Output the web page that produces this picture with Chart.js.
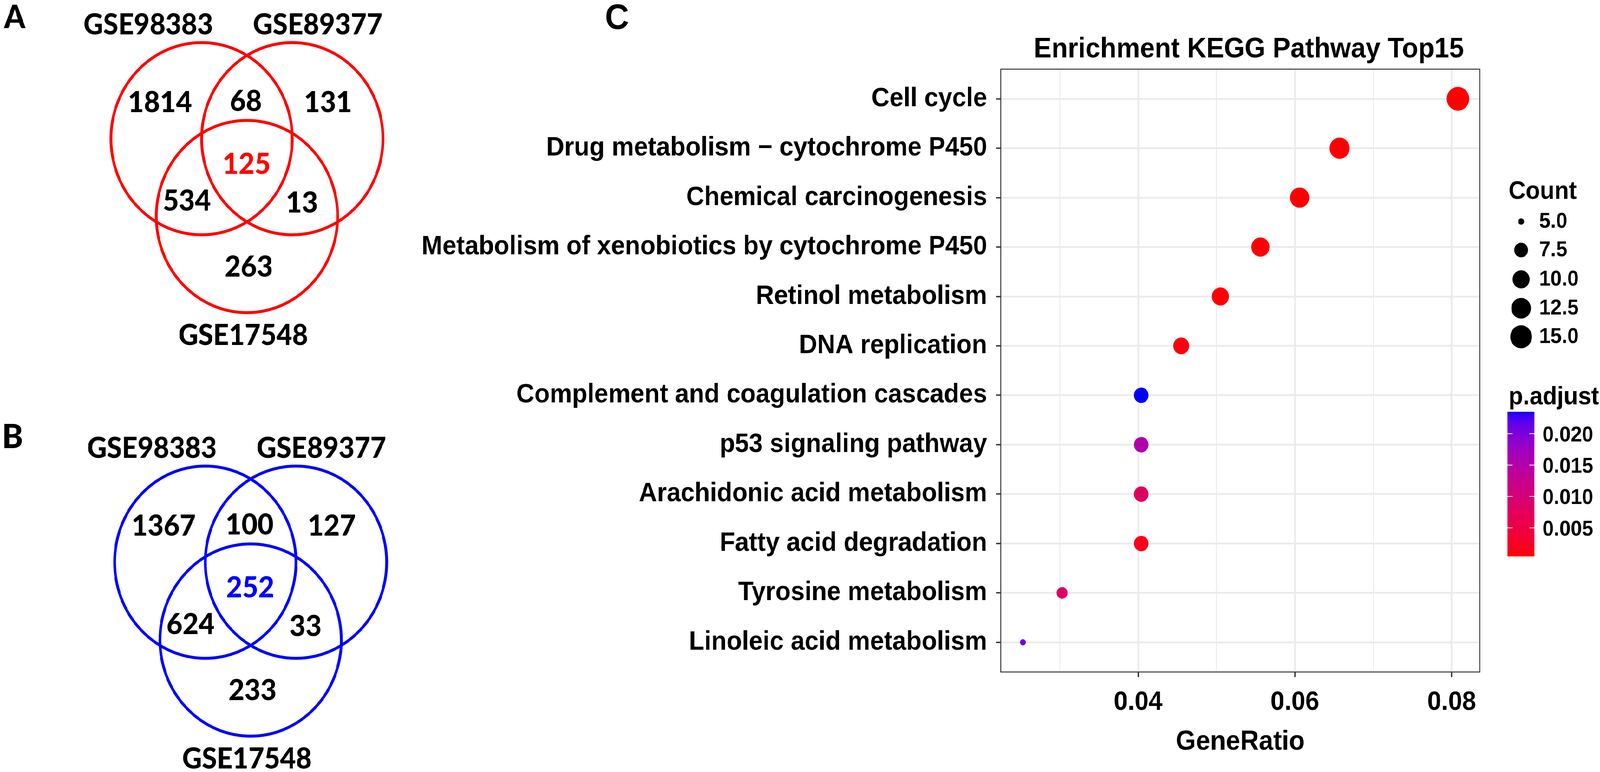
<!DOCTYPE html>
<html>
<head>
<meta charset="utf-8">
<script src="https://cdn.jsdelivr.net/npm/chart.js@4/dist/chart.umd.min.js"></script>
<style>
html,body{margin:0;padding:0;background:#fff;overflow:hidden;}
#stage{position:absolute;left:0;top:0;width:4341px;height:1976px;transform-origin:0 0;background:#fff;}
canvas{position:absolute;display:block;}
</style>
</head>
<body>
<div id="stage">
<canvas id="vennA" width="1100" height="976" style="left:0;top:0;width:1100px;height:976px"></canvas>
<canvas id="vennB" width="1100" height="1000" style="left:0;top:976px;width:1100px;height:1000px"></canvas>
<canvas id="dot" width="3241" height="1976" style="left:1100px;top:0;width:3241px;height:1976px"></canvas>
</div>
<script>
// ---------------- DATA ----------------
const vennSets = ['GSE98383', 'GSE89377', 'GSE17548'];
// region order: only1, 1&2, only2, 1&3, all three, 2&3, only3
const vennCountsA = [1814, 68, 131, 534, 125, 13, 263];
const vennCountsB = [1367, 100, 127, 624, 252, 33, 233];

const pathways = [
  'Cell cycle',
  'Drug metabolism \u2212 cytochrome P450',
  'Chemical carcinogenesis',
  'Metabolism of xenobiotics by cytochrome P450',
  'Retinol metabolism',
  'DNA replication',
  'Complement and coagulation cascades',
  'p53 signaling pathway',
  'Arachidonic acid metabolism',
  'Fatty acid degradation',
  'Tyrosine metabolism',
  'Linoleic acid metabolism'
];
const geneRatio = [0.0808, 0.0657, 0.0606, 0.0556, 0.0505, 0.0455, 0.0404, 0.0404, 0.0404, 0.0404, 0.0303, 0.0253];
const geneCount = [16, 13, 12, 11, 10, 9, 8, 8, 8, 8, 6, 5];
const pAdjust = [0.00046, 0.00049, 0.00053, 0.00061, 0.00075, 0.00095, 0.02349, 0.01543, 0.00783, 0.00161, 0.00806, 0.02073];

const xMajorTicks = [0.04, 0.06, 0.08];
const xMinorTicks = [0.03, 0.05, 0.07];
const countLegend = [5.0, 7.5, 10.0, 12.5, 15.0];
const pLegendTicks = [0.005, 0.010, 0.015, 0.020];

// ---------------- fit the 4341x1976 stage into the actual window ----------------
(function fit() {
  const sx = window.innerWidth / 4341, sy = window.innerHeight / 1976;
  if (sx > 0 && sy > 0 && (Math.abs(sx - 1) > 0.001 || Math.abs(sy - 1) > 0.001)) {
    document.getElementById('stage').style.transform = 'scale(' + sx + ',' + sy + ')';
  }
})();

// ---------------- LAYOUT / STYLE ----------------
const FONT_VENN = 'Lato';
const VENN_WEIGHT = '900';
const FONT_C = '"Liberation Sans", Arial, sans-serif';
const vennCircles = [[0, 0], [1, 0], [0.5, 0.81]];
const vennSetPos = [[-0.589, -1.195], [1.280, -1.195], [0.459, 2.037]];
const vennRegionPos = [[-0.459, -0.386], [0.488, -0.398], [1.394, -0.386], [-0.163, 0.638], [0.496, 0.256], [1.106, 0.659], [0.520, 1.325]];
const VENN_CENTER_REGION = 4;
const SET_FONT = 74, NUM_FONT = 75;

function capBase(size, cy) { return cy + 0.7165 * size / 2; }

function vennChart(id, counts, color, letter, frame) {
  const unitPx = chart => chart.scales.x.getPixelForValue(1) - chart.scales.x.getPixelForValue(0);
  const textPlugin = {
    id: 'vennText' + id,
    afterDraw(chart) {
      const ctx = chart.ctx, sx = chart.scales.x, sy = chart.scales.y;
      ctx.save();
      ctx.textAlign = 'center';
      ctx.textBaseline = 'alphabetic';
      ctx.fillStyle = '#000';
      ctx.font = VENN_WEIGHT + ' ' + SET_FONT + 'px ' + FONT_VENN;
      vennSets.forEach((name, i) => {
        ctx.fillText(name, sx.getPixelForValue(vennSetPos[i][0]), capBase(SET_FONT, sy.getPixelForValue(vennSetPos[i][1])));
      });
      ctx.font = VENN_WEIGHT + ' ' + NUM_FONT + 'px ' + FONT_VENN;
      counts.forEach((n, i) => {
        ctx.fillStyle = i === VENN_CENTER_REGION ? color : '#000';
        ctx.fillText(String(n), sx.getPixelForValue(vennRegionPos[i][0]), capBase(NUM_FONT, sy.getPixelForValue(vennRegionPos[i][1])));
      });
      ctx.fillStyle = '#000';
      ctx.font = VENN_WEIGHT + ' ' + letter.size + 'px ' + FONT_VENN;
      ctx.fillText(letter.text, letter.x, letter.y);
      ctx.restore();
    }
  };
  return new Chart(document.getElementById(id), {
    type: 'scatter',
    data: {
      datasets: [{
        data: vennCircles.map(c => ({ x: c[0], y: c[1] })),
        pointRadius: c => unitPx(c.chart),
        pointHoverRadius: c => unitPx(c.chart),
        pointStyle: 'circle',
        backgroundColor: 'rgba(0,0,0,0)',
        borderColor: color,
        borderWidth: 7.5,
        clip: false
      }]
    },
    options: {
      responsive: false, animation: false, devicePixelRatio: 1, events: [],
      layout: { padding: 0 },
      plugins: { legend: { display: false }, tooltip: { enabled: false } },
      scales: {
        x: { type: 'linear', display: false, min: frame.x0, max: frame.x1 },
        y: { type: 'linear', display: false, reverse: true, min: frame.y0, max: frame.y1 }
      }
    },
    plugins: [textPlugin]
  });
}

vennChart('vennA', vennCountsA, '#FF0000', { text: 'A', x: 40, y: 72, size: 82 },
  { x0: -2.2236, x1: 2.2479, y0: -1.4431, y1: 2.5244 });
vennChart('vennB', vennCountsB, '#0000FF', { text: 'B', x: 34, y: 171, size: 86 },
  { x0: -2.2642, x1: 2.2073, y0: -1.8821, y1: 2.1829 });

// ---------------- colour scale (Lab interpolation red -> blue) ----------------
function s2l(c) { c /= 255; return c <= 0.04045 ? c / 12.92 : Math.pow((c + 0.055) / 1.055, 2.4); }
function l2s(c) { c = c <= 0.0031308 ? 12.92 * c : 1.055 * Math.pow(Math.max(c, 0), 1 / 2.4) - 0.055; return Math.round(Math.max(0, Math.min(1, c)) * 255); }
function rgbToLab(rgb) {
  const R = s2l(rgb[0]), G = s2l(rgb[1]), B = s2l(rgb[2]);
  const X = (0.4124 * R + 0.3576 * G + 0.1805 * B) / 0.95047;
  const Y = 0.2126 * R + 0.7152 * G + 0.0722 * B;
  const Z = (0.0193 * R + 0.1192 * G + 0.9505 * B) / 1.08883;
  const f = t => t > 0.008856 ? Math.cbrt(t) : (7.787 * t + 16 / 116);
  const fx = f(X), fy = f(Y), fz = f(Z);
  return [116 * fy - 16, 500 * (fx - fy), 200 * (fy - fz)];
}
function labToRgb(lab) {
  const fy = (lab[0] + 16) / 116, fx = fy + lab[1] / 500, fz = fy - lab[2] / 200;
  const fi = t => t * t * t > 0.008856 ? t * t * t : (t - 16 / 116) / 7.787;
  const X = fi(fx) * 0.95047, Y = fi(fy), Z = fi(fz) * 1.08883;
  const R = 3.2406 * X - 1.5372 * Y - 0.4986 * Z;
  const G = -0.9689 * X + 1.8758 * Y + 0.0415 * Z;
  const B = 0.0557 * X - 0.2040 * Y + 1.0570 * Z;
  return [l2s(R), l2s(G), l2s(B)];
}
const LAB_LOW = rgbToLab([255, 0, 0]);
const LAB_HIGH = rgbToLab([0, 0, 255]);
const pMin = Math.min(...pAdjust), pMax = Math.max(...pAdjust);
function colorFor(v) {
  const t = Math.max(0, Math.min(1, (v - pMin) / (pMax - pMin)));
  const lab = [0, 1, 2].map(k => LAB_LOW[k] + (LAB_HIGH[k] - LAB_LOW[k]) * t);
  const c = labToRgb(lab);
  return 'rgb(' + c[0] + ',' + c[1] + ',' + c[2] + ')';
}
const cMin = Math.min(...geneCount), cMax = Math.max(...geneCount);
const R_MIN = 8, R_MAX = 30.5;
function radiusFor(n) { return R_MIN + (R_MAX - R_MIN) * Math.sqrt(Math.max(0, (n - cMin) / (cMax - cMin))); }

// ---------------- dot plot ----------------
const OFF = 1100;
const isMajorX = v => xMajorTicks.some(m => Math.abs(m - v) < 1e-9);
const tickFont = { family: FONT_C, weight: 'bold', size: 68 };

const decorPlugin = {
  id: 'decor',
  afterDraw(chart) {
    const ctx = chart.ctx, a = chart.chartArea;
    ctx.save();
    ctx.strokeStyle = '#333333';
    ctx.lineWidth = 2.5;
    ctx.strokeRect(a.left, a.top, a.right - a.left, a.bottom - a.top);
    ctx.fillStyle = '#000';
    ctx.textBaseline = 'alphabetic';
    ctx.textAlign = 'center';
    ctx.font = 'bold 90px ' + FONT_C;
    ctx.fillText('C', 1674 - OFF, 74);
    ctx.textAlign = 'left';
    ctx.font = 'bold 72px ' + FONT_C;
    ctx.fillText('Enrichment KEGG Pathway Top15', 2805 - OFF, 147);

    ctx.font = 'bold 64px ' + FONT_C;
    ctx.fillText('Count', 4093 - OFF, 509);
    const rows = [567, 640, 715, 789, 862];
    countLegend.forEach((n, i) => {
      ctx.beginPath();
      ctx.fillStyle = '#000';
      ctx.arc(4127 - OFF, rows[i], radiusFor(n), 0, Math.PI * 2);
      ctx.fill();
      ctx.font = 'bold 55px ' + FONT_C;
      ctx.fillText(n.toFixed(1), 4176 - OFF, rows[i] + 16);
    });

    ctx.font = 'bold 64px ' + FONT_C;
    ctx.fillText('p.adjust', 4093 - OFF, 1035);
    const bx = 4090 - OFF, bw = 73, bTop = 1054, bBot = 1424;
    for (let y = bTop; y < bBot; y++) {
      const v = pMax - (y + 0.5 - bTop) / (bBot - bTop) * (pMax - pMin);
      ctx.fillStyle = colorFor(v);
      ctx.fillRect(bx, y, bw, 1.2);
    }
    const yFor = v => bBot - (v - pMin) / (pMax - pMin) * (bBot - bTop);
    ctx.strokeStyle = '#FFFFFF';
    ctx.lineWidth = 2;
    pLegendTicks.forEach(v => {
      const y = yFor(v);
      ctx.beginPath();
      ctx.moveTo(bx, y); ctx.lineTo(bx + 14, y);
      ctx.moveTo(bx + bw - 14, y); ctx.lineTo(bx + bw, y);
      ctx.stroke();
      ctx.fillStyle = '#000';
      ctx.font = 'bold 55px ' + FONT_C;
      ctx.fillText(v.toFixed(3), 4185 - OFF, y + 19.7);
    });
    ctx.restore();
  }
};

new Chart(document.getElementById('dot'), {
  type: 'scatter',
  data: {
    datasets: [{
      data: pathways.map((p, i) => ({ x: geneRatio[i], y: i })),
      pointRadius: c => radiusFor(geneCount[c.dataIndex]),
      pointHoverRadius: c => radiusFor(geneCount[c.dataIndex]),
      backgroundColor: c => colorFor(pAdjust[c.dataIndex]),
      borderWidth: 0,
      pointStyle: 'circle'
    }]
  },
  options: {
    responsive: false, animation: false, devicePixelRatio: 1, events: [],
    layout: { padding: { left: 0, top: 177, right: 326, bottom: 0 } },
    plugins: { legend: { display: false }, tooltip: { enabled: false }, title: { display: false } },
    scales: {
      x: {
        type: 'linear', position: 'bottom', min: 0.02247, max: 0.08359,
        afterBuildTicks: s => { s.ticks = xMinorTicks.concat(xMajorTicks).sort((a, b) => a - b).map(v => ({ value: v })); },
        afterFit: s => { s.height = 256; },
        ticks: {
          autoSkip: false, maxRotation: 0, minRotation: 0, padding: 24, color: '#000', font: tickFont,
          callback: v => isMajorX(v) ? v.toFixed(2) : ''
        },
        grid: {
          color: '#EBEBEB',
          lineWidth: c => (c.tick && isMajorX(c.tick.value)) ? 4.5 : 2.3,
          drawTicks: true, tickLength: 13, tickWidth: 3.5,
          tickColor: c => (c.tick && isMajorX(c.tick.value)) ? '#333333' : 'rgba(0,0,0,0)'
        },
        border: { display: false },
        title: { display: true, text: 'GeneRatio', color: '#000', font: { family: FONT_C, weight: 'bold', size: 70 }, padding: { top: 0, bottom: 34 } }
      },
      y: {
        type: 'linear', reverse: true, min: -0.6, max: 11.6,
        afterBuildTicks: s => { s.ticks = pathways.map((p, i) => ({ value: i })); },
        afterFit: s => { s.width = 1615; },
        ticks: { autoSkip: false, padding: 24, color: '#000', font: tickFont, callback: v => pathways[v] },
        grid: { color: '#EBEBEB', lineWidth: 4.5, drawTicks: true, tickLength: 13, tickWidth: 3.5, tickColor: '#333333' },
        border: { display: false }
      }
    }
  },
  plugins: [decorPlugin]
});
</script>
</body>
</html>
